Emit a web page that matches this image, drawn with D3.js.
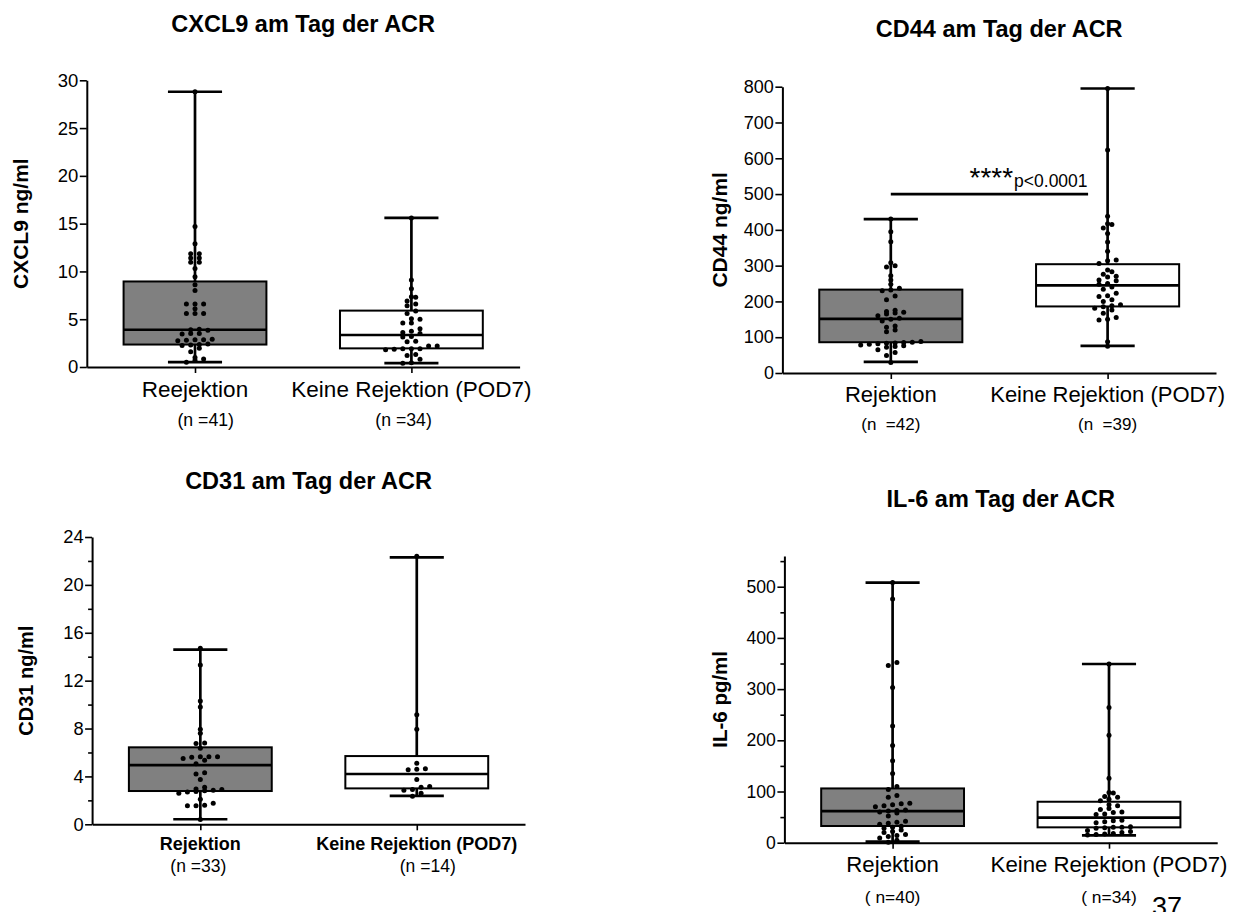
<!DOCTYPE html>
<html>
<head>
<meta charset="utf-8">
<script src="https://cdn.jsdelivr.net/npm/d3@7"></script>
<style>
  body { margin: 0; background: #fff; }
  text { font-family: "Liberation Sans", Arial, sans-serif; fill: #000; }
</style>
</head>
<body>
<svg id="chart" width="1241" height="912"></svg>
<script>
// ---- data ----
const groupsCxcl9 = ['Reejektion', 'Keine Rejektion (POD7)'];
const groups = ['Rejektion', 'Keine Rejektion (POD7)'];

const nCxcl9 = ['(n =41)', '(n =34)'];
const nCd44 = ['(n  =42)', '(n  =39)'];
const nCd31 = ['(n =33)', '(n =14)'];
const nIl6 = ['( n=40)', '( n=34)'];

// box stats: [min, q1, median, q3, max]
const cxcl9Stats = [[0.5, 2.35, 3.9, 8.95, 28.8], [0.4, 1.95, 3.35, 5.9, 15.6]];
const cd44Stats = [[31, 86, 151, 233, 430], [76, 186, 245, 304, 795]];
const cd31Stats = [[0.42, 2.78, 4.95, 6.43, 14.6], [2.37, 3.0, 4.2, 5.7, 22.3]];
const il6Stats = [[2, 32.6, 61.8, 106, 508], [14.3, 30, 48.8, 80, 349]];

const cxcl9Rej = [28.8, 14.7, 12.9, 11.85, 11.85, 11.4, 11.4, 10.95, 10.95, 10.3, 9.45, 8.6, 8.0,
  6.6, 6.6, 6.6, 6.1, 5.6, 5.6, 5.6, 3.95, 3.9, 3.85, 3.5, 3.5, 3.45, 2.9, 2.85, 2.85, 2.8, 2.75,
  2.4, 2.35, 2.3, 2.25, 1.95, 1.6, 1.0, 0.85, 0.7, 0.5];
const cxcl9Keine = [15.6, 9.1, 8.2, 7.35, 7.3, 6.9, 6.6, 6.4, 5.85, 5.6, 5.05, 5.0, 4.6, 4.6, 4.0,
  3.75, 3.6, 3.5, 3.2, 3.15, 2.7, 2.65, 2.2, 2.2, 1.9, 1.9, 1.9, 1.85, 1.8, 1.3, 1.2, 0.8, 0.45, 0.4];

const cd44Rej = [430, 395, 367, 308, 300, 296, 272, 260, 248, 237, 232, 230, 215, 205, 175, 172,
  170, 168, 165, 160, 153, 150, 145, 131, 128, 120, 115, 88, 86, 85, 84, 83, 82, 80, 78, 76, 74,
  72, 65, 57, 49, 29];
const cd44Keine = [795, 623, 438, 417, 415, 405, 390, 366, 340, 316, 314, 306, 288, 283, 276, 270,
  268, 260, 258, 250, 248, 240, 234, 223, 216, 214, 205, 200, 191, 188, 185, 181, 176, 167, 155,
  150, 148, 87, 75];

const cd31Rej = [14.7, 13.3, 10.3, 9.8, 7.95, 7.6, 6.8, 6.75, 6.35, 5.65, 5.65, 5.65, 5.6, 5.5,
  5.35, 5.05, 4.3, 4.2, 3.75, 3.1, 2.95, 2.9, 2.85, 2.8, 2.75, 2.7, 2.6, 2.1, 1.75, 1.6, 1.55,
  1.55, 0.4];
const cd31Keine = [22.4, 9.15, 7.95, 5.1, 4.65, 4.6, 4.55, 3.75, 3.15, 3.1, 2.9, 2.85, 2.6, 2.35];

const il6Rej = [508, 476, 352, 346, 303, 228, 190, 160, 135, 110, 104, 92, 89, 77, 76, 74, 72, 70,
  64, 63, 62, 60, 58, 52, 42, 40, 38, 36, 32, 30, 28, 25, 22, 20, 16, 14, 12, 9, 5, 1];
const il6Keine = [349, 264, 210, 126, 98, 97, 90, 89, 85, 82, 74, 72, 67, 65, 60, 59, 56, 55, 44,
  43, 41, 39, 31, 30, 30, 29, 28, 24, 22, 20, 18, 17, 16, 15];

const cxcl9Ticks = d3.range(0, 31, 5);
const cd44Ticks = d3.range(0, 801, 100);
const cd31Ticks = d3.range(0, 25, 4);
const cd31Minor = d3.range(2, 24, 4);
const il6Ticks = d3.range(0, 501, 100);
const il6Minor = d3.range(50, 551, 100);

const fills = ['#808080', '#ffffff'];

// ---- panels ----
const panels = [
  { title: 'CXCL9 am Tag der ACR', yLabel: 'CXCL9 ng/ml', groups: groupsCxcl9, nLabels: nCxcl9,
    values: [cxcl9Rej, cxcl9Keine], stats: cxcl9Stats, yMax: 30, ticks: cxcl9Ticks, minor: [],
    left: 86.8, right: 519.6, top: 80.3, bottom: 367,
    titleY: 32, titleSize: 23.5, tickSize: 18.5, yTitleX: 28, yTitleSize: 21,
    catY: 396.7, catSize: 22.5, catBold: false, nY: 425.7, nSize: 17.7, nDx: [10.7, -7.8] },
  { title: 'CD44 am Tag der ACR', yLabel: 'CD44 ng/ml', groups: groups, nLabels: nCd44,
    values: [cd44Rej, cd44Keine], stats: cd44Stats, yMax: 800, ticks: cd44Ticks, minor: [],
    left: 782.4, right: 1216, top: 86.7, bottom: 373,
    titleY: 37.3, titleSize: 23.5, tickSize: 18, yTitleX: 727, yTitleSize: 21,
    catY: 401.7, catSize: 22, catBold: false, nY: 429.5, nSize: 17, nDx: [0, 0], sig: 500 },
  { title: 'CD31 am Tag der ACR', yLabel: 'CD31 ng/ml', groups: groups, nLabels: nCd31,
    values: [cd31Rej, cd31Keine], stats: cd31Stats, yMax: 24, ticks: cd31Ticks, minor: cd31Minor,
    left: 92.1, right: 525, top: 537, bottom: 824.3,
    titleY: 489.3, titleSize: 23.5, tickSize: 18.3, yTitleX: 33, yTitleSize: 20,
    catY: 850, catSize: 18, catBold: true, nY: 871.5, nSize: 17.5, nDx: [-2, 11] },
  { title: 'IL-6 am Tag der ACR', yLabel: 'IL-6 pg/ml', groups: groups, nLabels: nIl6,
    values: [il6Rej, il6Keine], stats: il6Stats, yMax: 560, ticks: il6Ticks, minor: il6Minor,
    left: 784.4, right: 1217.2, top: 556, bottom: 842.7,
    titleY: 506.7, titleSize: 23.5, tickSize: 17.6, yTitleX: 727, yTitleSize: 20.5,
    catY: 872.3, catSize: 22.2, catBold: false, nY: 903.3, nSize: 17.4, nDx: [0, 0] }
];

const svg = d3.select('#chart');

// GraphPad-like scatter: dots in rows, centred on the group
function swarm(values, y, cx, spacing, rowGap) {
  const sorted = values.slice().sort((a, b) => a - b);
  const rows = [];
  sorted.forEach(v => {
    const py = y(v);
    const last = rows[rows.length - 1];
    if (last && Math.abs(last.y0 - py) <= rowGap) last.pts.push(v);
    else rows.push({ y0: py, pts: [v] });
  });
  const out = [];
  rows.forEach(r => r.pts.forEach((v, i) => {
    out.push({ v: v, x: cx + (i - (r.pts.length - 1) / 2) * spacing });
  }));
  return out;
}

function drawPanel(p) {
  const g = svg.append('g');
  const x = d3.scalePoint().domain(p.groups).range([p.left, p.right]).padding(0.5);
  const y = d3.scaleLinear().domain([0, p.yMax]).range([p.bottom, p.top]);
  const step = x.step();
  const boxW = step * 0.66;
  const capW = step * 0.25;

  // y axis
  const ya = g.append('g').attr('transform', `translate(${p.left},0)`)
    .call(d3.axisLeft(y).tickValues(p.ticks).tickSize(7).tickSizeOuter(0).tickPadding(1.5));
  ya.select('.domain').attr('stroke', '#000').attr('stroke-width', 2);
  ya.selectAll('.tick line').attr('stroke', '#000').attr('stroke-width', 1.6);
  ya.selectAll('.tick text').attr('font-size', p.tickSize)
    .attr('font-family', '"Liberation Sans", Arial, sans-serif');

  if (p.minor.length) {
    const ym = g.append('g').attr('transform', `translate(${p.left},0)`)
      .call(d3.axisLeft(y).tickValues(p.minor).tickSize(4).tickFormat(''));
    ym.select('.domain').remove();
    ym.selectAll('.tick line').attr('stroke', '#000').attr('stroke-width', 1.6);
  }

  // x axis
  const xa = g.append('g').attr('transform', `translate(0,${p.bottom})`)
    .call(d3.axisBottom(x).tickSize(6).tickSizeOuter(0).tickFormat(''));
  xa.select('.domain').attr('stroke', '#000').attr('stroke-width', 2);
  xa.selectAll('.tick line').attr('stroke', '#000').attr('stroke-width', 1.6);

  // boxes
  p.groups.forEach((grp, i) => {
    const s = p.stats[i];
    const cx = x(grp);
    g.append('rect')
      .attr('x', cx - boxW / 2).attr('y', y(s[3]))
      .attr('width', boxW).attr('height', y(s[1]) - y(s[3]))
      .attr('fill', fills[i]).attr('stroke', '#000').attr('stroke-width', 2);
    // whiskers
    [[s[3], s[4]], [s[1], s[0]]].forEach(w => {
      g.append('line').attr('x1', cx).attr('x2', cx).attr('y1', y(w[0])).attr('y2', y(w[1]))
        .attr('stroke', '#000').attr('stroke-width', 2.7);
    });
    [s[0], s[4]].forEach(v => {
      g.append('line').attr('x1', cx - capW / 2).attr('x2', cx + capW / 2)
        .attr('y1', y(v)).attr('y2', y(v)).attr('stroke', '#000').attr('stroke-width', 2.7);
    });
    g.append('line').attr('x1', cx - boxW / 2).attr('x2', cx + boxW / 2)
      .attr('y1', y(s[2])).attr('y2', y(s[2])).attr('stroke', '#000').attr('stroke-width', 2.7);

    // dots
    g.selectAll(null).data(swarm(p.values[i], y, cx, 8.6, 4)).enter()
      .append('circle')
      .attr('cx', d => d.x).attr('cy', d => y(d.v)).attr('r', 2.5).attr('fill', '#000');

    // category + n labels
    g.append('text').attr('x', cx).attr('y', p.catY).attr('text-anchor', 'middle')
      .attr('font-size', p.catSize).attr('font-weight', p.catBold ? 'bold' : 'normal').text(grp);
    g.append('text').attr('x', cx + p.nDx[i]).attr('y', p.nY).attr('text-anchor', 'middle')
      .attr('font-size', p.nSize).style('white-space', 'pre').text(p.nLabels[i]);
  });

  // significance bar
  if (p.sig) {
    const x0 = x(p.groups[0]);
    const x1 = x(p.groups[1]) - step * 0.09;
    g.append('line').attr('x1', x0).attr('x2', x1).attr('y1', y(p.sig)).attr('y2', y(p.sig))
      .attr('stroke', '#000').attr('stroke-width', 2.7);
    const t = g.append('text').attr('x', x0 + step * 0.363).attr('y', y(p.sig) - 7);
    t.append('tspan').attr('font-size', 28).text('****');
    t.append('tspan').attr('font-size', 17.5).attr('dx', 1).text('p<0.0001');
  }

  // titles
  g.append('text').attr('x', (p.left + p.right) / 2).attr('y', p.titleY)
    .attr('text-anchor', 'middle').attr('font-size', p.titleSize).attr('font-weight', 'bold')
    .text(p.title);
  g.append('text')
    .attr('transform', `translate(${p.yTitleX},${(p.top + p.bottom) / 2}) rotate(-90)`)
    .attr('text-anchor', 'middle').attr('font-size', p.yTitleSize).attr('font-weight', 'bold')
    .text(p.yLabel);
}

panels.forEach(drawPanel);

// page number
svg.append('text').attr('x', 1152).attr('y', 916).attr('font-size', 27).text('37');
</script>
</body>
</html>
